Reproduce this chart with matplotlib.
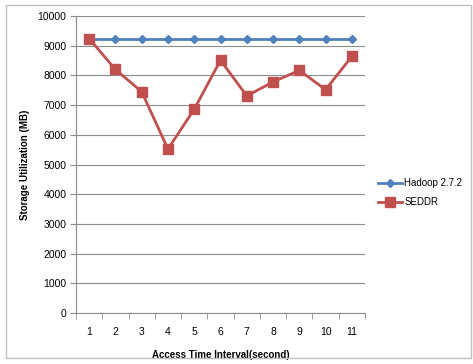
import matplotlib
matplotlib.use("Agg")
import matplotlib.pyplot as plt
from matplotlib.patches import Rectangle
import numpy as np

categories = ["1", "2", "3", "4", "5", "6", "7", "8", "9", "10", "11"]
hadoop = [9240, 9240, 9240, 9240, 9240, 9240, 9240, 9240, 9240, 9240, 9240]
seddr = [9240, 8200, 7450, 5520, 6860, 8510, 7310, 7780, 8170, 7520, 8640]

plt.rcParams['font.family'] = ['Liberation Sans', 'DejaVu Sans']

fig = plt.figure(figsize=(4.73, 3.64), dpi=100)
W, H = 473, 364
ax = fig.add_axes([76 / W, 1 - 313 / H, (365 - 76) / W, (313 - 16) / H])

x = np.arange(len(categories))
ax.plot(x, hadoop, color='#4F81BD', lw=2, marker='D', ms=4, label='Hadoop 2.7.2', zorder=3)
ax.plot(x, seddr, color='#C0504D', lw=2, marker='s', ms=7, label='SEDDR', zorder=3)

ax.set_xlim(-0.5, len(categories) - 0.5)
ax.set_ylim(0, 10000)
ax.set_yticks(np.arange(0, 10001, 1000))
ax.yaxis.grid(True, color='#8c8c8c', lw=0.8)
ax.set_axisbelow(True)
ax.set_xticks(x)
ax.set_xticklabels(categories)
ax.set_xticks(np.arange(-0.5, len(categories), 1), minor=True)
ax.tick_params(axis='x', which='major', length=0, pad=10, labelsize=7.5)
ax.tick_params(axis='x', which='minor', length=4, color='#8c8c8c', direction='out')
ax.tick_params(axis='y', length=4, color='#8c8c8c', labelsize=7.5, pad=3)
for s in ['top', 'right']:
    ax.spines[s].set_visible(False)
for s in ['left', 'bottom']:
    ax.spines[s].set_color('#8c8c8c')
ax.set_xlabel('Access Time Interval(second)', fontsize=7, fontweight='bold')
ax.set_ylabel('Storage Utilization (MB)', fontsize=7, fontweight='bold')
ax.yaxis.set_label_coords(-46 / (365 - 76), 0.5)
ax.xaxis.set_label_coords(0.5, -(350 - 313) / (313 - 16))

leg = ax.legend(loc='center left', bbox_to_anchor=(1.015, 0.405), frameon=False,
                fontsize=7, handlelength=2.5, labelspacing=0.9, handletextpad=0.2)

fig.patches.append(Rectangle((6 / W, 1 - 358 / H), (471 - 6) / W, (358 - 5) / H,
                             transform=fig.transFigure, fill=False,
                             edgecolor='#bfbfbf', lw=1))

fig.savefig('out.png', dpi=100)
